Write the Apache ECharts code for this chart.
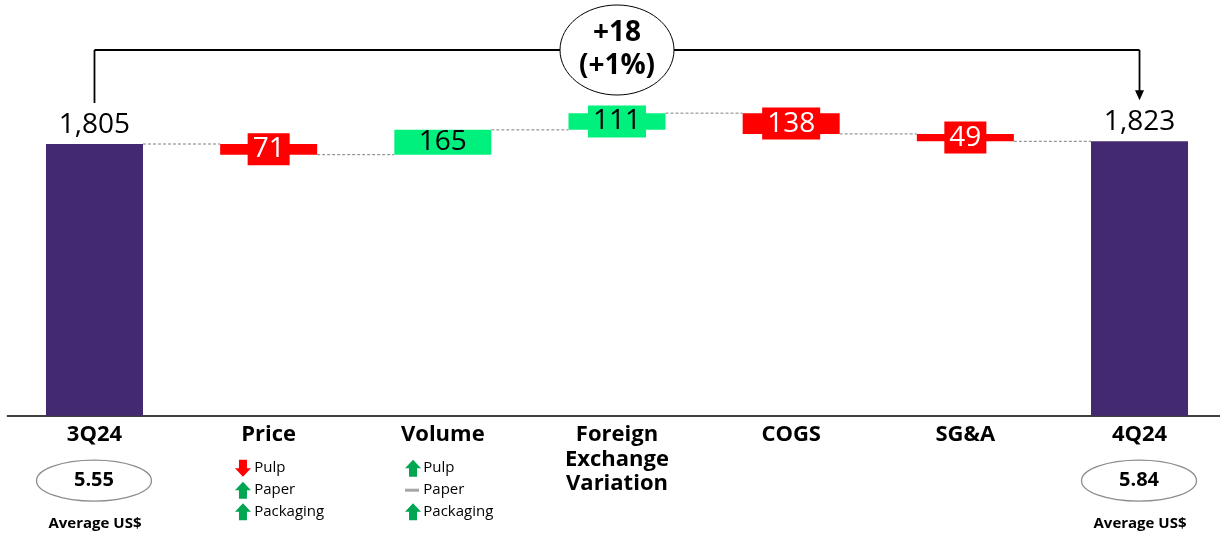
<!DOCTYPE html>
<html>
<head>
<meta charset="utf-8">
<script src="https://cdn.jsdelivr.net/npm/echarts@6/dist/echarts.min.js"></script>
<style>
  html, body { margin: 0; padding: 0; background: #fff; }
  #chart { width: 1220px; height: 537px; }
</style>
</head>
<body>
<div id="chart"></div>
<script>
// EBITDA bridge, 3Q24 -> 4Q24 (R$ million)
const categories = ['3Q24', 'Price', 'Volume', 'Foreign\nExchange\nVariation', 'COGS', 'SG&A', '4Q24'];
// first and last entries are totals, the rest are changes
const values = [1805, -71, 165, 111, -138, -49, 1823];
const avgRates = ['5.55', '5.84'];
const rateCaption = 'Average US$';
const drivers = ['Pulp', 'Paper', 'Packaging'];
const priceTrend = ['down', 'up', 'up'];
const volumeTrend = ['up', 'flat', 'up'];

const FONT = '"Open Sans", "Noto Sans", sans-serif';
const COLOR_TOTAL = '#43296f';
const COLOR_UP = '#00f07e';
const COLOR_DOWN = '#ff0000';
const BAR_RATIO = 0.557;

const last = values.length - 1;
// running level after each step
const levels = [];
values.forEach((v, i) => {
  if (i === 0) levels.push(v);
  else if (i === last) levels.push(v);
  else levels.push(levels[i - 1] + v);
});

const fmt = v => v.toLocaleString('en-US');

const baseData = values.map((v, i) => {
  if (i === 0 || i === last) return 0;
  return Math.min(levels[i - 1], levels[i]);
});

const barData = values.map((v, i) => {
  if (i === 0 || i === last) {
    return {
      value: v,
      itemStyle: { color: COLOR_TOTAL },
      label: {
        show: true, position: 'top', distance: 4,
        formatter: () => fmt(v),
        color: '#000', fontSize: 28, lineHeight: 30, fontFamily: FONT
      }
    };
  }
  const up = v > 0;
  const color = up ? COLOR_UP : COLOR_DOWN;
  // tall bars carry their value without a box of their own
  const boxed = Math.abs(v) < 150;
  return {
    value: Math.abs(v),
    itemStyle: { color },
    label: {
      show: true, position: 'inside',
      formatter: () => fmt(Math.abs(v)),
      color: up ? '#000' : '#fff',
      fontSize: 28, lineHeight: 30, fontFamily: FONT,
      backgroundColor: boxed ? color : 'transparent',
      padding: [1, 5]
    }
  };
});

const connectorData = levels.slice(0, last).map((lv, i) => [i, lv]);

const chart = echarts.init(document.getElementById('chart'), null, { renderer: 'canvas' });

chart.setOption({
  animation: false,
  backgroundColor: '#fff',
  grid: {
    left: 7.4, width: 1219.2, top: 39.4, bottom: 121.3,
    containLabel: false, outerBoundsMode: 'none'
  },
  xAxis: {
    type: 'category',
    data: categories,
    axisLine: { show: true, lineStyle: { color: '#000', width: 1.5 } },
    axisTick: { show: false },
    axisLabel: {
      interval: 0, margin: 7,
      color: '#000', fontSize: 22, fontWeight: 'bold', lineHeight: 24.5,
      fontFamily: FONT
    }
  },
  yAxis: {
    type: 'value', min: 0, max: 2500, show: false,
    splitLine: { show: false }
  },
  series: [
    {
      type: 'custom',
      name: 'connectors',
      z: 1,
      silent: true,
      data: connectorData,
      encode: { x: 0, y: 1 },
      renderItem: (params, api) => {
        const i = api.value(0);
        const lv = api.value(1);
        const p0 = api.coord([i, lv]);
        const p1 = api.coord([i + 1, lv]);
        const half = api.size([1, 0])[0] * BAR_RATIO / 2;
        return {
          type: 'line',
          shape: { x1: p0[0] + half, y1: p0[1], x2: p1[0] - half, y2: p1[1] },
          style: { stroke: '#7f7f7f', lineWidth: 1, lineDash: [3, 2] }
        };
      }
    },
    {
      type: 'bar', name: 'base', stack: 'bridge', silent: true,
      barWidth: (BAR_RATIO * 100) + '%',
      itemStyle: { color: 'transparent' },
      data: baseData
    },
    {
      type: 'bar', name: 'step', stack: 'bridge', z: 3,
      barWidth: (BAR_RATIO * 100) + '%',
      data: barData
    }
  ]
});

// Annotations placed from the chart's own coordinate system
function px(i, v) { return chart.convertToPixel({ xAxisIndex: 0, yAxisIndex: 0 }, [i, v]); }

const y0 = px(0, 0)[1];
const xs = categories.map((c, i) => px(i, 0)[0]);
const change = values[last] - values[0];
const pct = Math.round(change / values[0] * 100);
const sign = n => (n >= 0 ? '+' : '') + n;

const g = [];
const line = (x1, y1, x2, y2, w) => g.push({
  type: 'line', silent: true, z: 10,
  shape: { x1, y1, x2, y2 },
  style: { stroke: '#000', lineWidth: w }
});
const text = (t, x, y, font, align, fill) => g.push({
  type: 'text', silent: true, z: 12,
  style: {
    text: t, x, y, font, fill: fill || '#000',
    textAlign: align || 'center', textVerticalAlign: 'middle',
    align: align || 'center', verticalAlign: 'middle'
  }
});

// bracket from the opening to the closing total
const yTop = 50;
const yLeft = px(0, values[0])[1] - 41;
const yRight = px(last, values[last])[1] - 41;
line(xs[0], yLeft, xs[0], yTop, 1.8);
line(xs[0], yTop, xs[last], yTop, 1.8);
line(xs[last], yTop, xs[last], yRight - 9, 1.8);
g.push({
  type: 'polygon', silent: true, z: 10,
  shape: { points: [[xs[last] - 4.5, yRight - 10], [xs[last] + 4.5, yRight - 10], [xs[last], yRight]] },
  style: { fill: '#000' }
});

// change bubble
g.push({
  type: 'ellipse', silent: true, z: 11,
  shape: { cx: xs[3], cy: yTop, rx: 57, ry: 45 },
  style: { fill: '#fff', stroke: '#000', lineWidth: 1 }
});
text(sign(change), xs[3], yTop - 17, 'bold 28px ' + FONT);
text('(' + sign(pct) + '%)', xs[3], yTop + 16.5, 'bold 28px ' + FONT);

// average exchange rate badges under the totals
[[0, avgRates[0]], [last, avgRates[1]]].forEach(([i, r]) => {
  g.push({
    type: 'ellipse', silent: true, z: 11,
    shape: { cx: xs[i] - 0.5, cy: y0 + 65, rx: 57.5, ry: 20.5 },
    style: { fill: '#fff', stroke: '#8c8c8c', lineWidth: 1.3 }
  });
  text(r, xs[i] - 0.5, y0 + 65, 'bold 20px ' + FONT);
  text(rateCaption, xs[i] + 0.5, y0 + 108.5, 'bold 15px ' + FONT);
});

// driver lists with trend arrows
function arrow(left, cy, dir) {
  const w = 16, h = 17, s = 4;
  if (dir === 'flat') {
    g.push({
      type: 'rect', silent: true, z: 11,
      shape: { x: left, y: cy - 1.5, width: 14, height: 3 },
      style: { fill: '#a6a6a6' }
    });
    return;
  }
  const up = dir === 'up';
  const k = up ? 1 : -1;
  const pts = [
    [left + w / 2, cy - k * h / 2],
    [left + w, cy],
    [left + w - s, cy],
    [left + w - s, cy + k * h / 2],
    [left + s, cy + k * h / 2],
    [left + s, cy],
    [left, cy]
  ];
  g.push({
    type: 'polygon', silent: true, z: 11,
    shape: { points: pts },
    style: { fill: up ? '#00a651' : '#ff0000' }
  });
}
const rowY = [52.5, 74.5, 96];
[[1, priceTrend, -33.7, -14.5], [2, volumeTrend, -37.8, -19.5]].forEach(([i, trend, aOff, tOff]) => {
  drivers.forEach((d, r) => {
    arrow(xs[i] + aOff, y0 + rowY[r], trend[r]);
    text(d, xs[i] + tOff, y0 + rowY[r], '15px ' + FONT, 'left');
  });
});

chart.setOption({ graphic: { elements: g } });
</script>
</body>
</html>
